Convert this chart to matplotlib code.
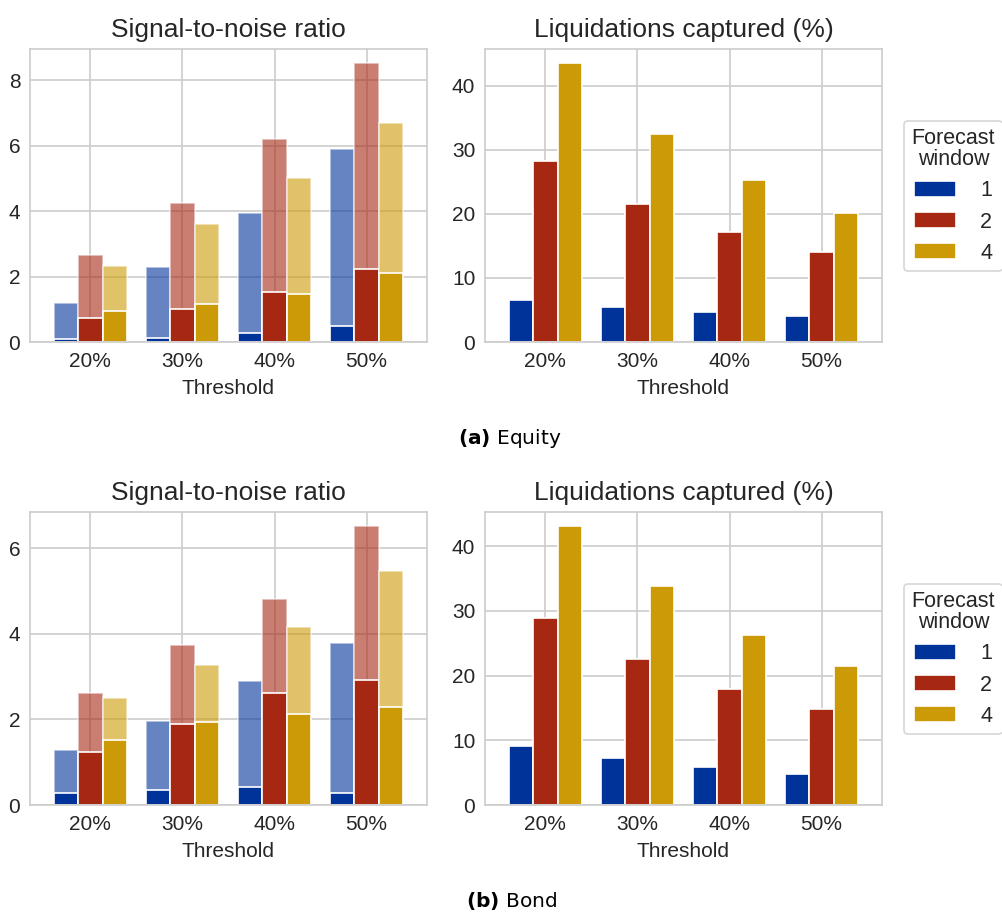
import matplotlib
matplotlib.use("Agg")
import matplotlib.pyplot as plt
import numpy as np

thresholds = ["20%", "30%", "40%", "50%"]
windows = ["1", "2", "4"]
colors = ["#003399", "#A62813", "#CC9A06"]

# Equity
eq_snr_total = {"1": [1.18, 2.29, 3.94, 5.89],
                "2": [2.65, 4.24, 6.21, 8.52],
                "4": [2.33, 3.60, 5.00, 6.70]}
eq_snr_base = {"1": [0.10, 0.11, 0.27, 0.48],
               "2": [0.72, 1.00, 1.53, 2.23],
               "4": [0.95, 1.16, 1.47, 2.12]}
eq_capt = {"1": [6.48, 5.44, 4.65, 4.13],
           "2": [28.34, 21.54, 17.15, 14.07],
           "4": [43.56, 32.42, 25.31, 20.18]}
# Bond
bd_snr_total = {"1": [1.29, 1.97, 2.90, 3.79],
                "2": [2.62, 3.73, 4.82, 6.52],
                "4": [2.51, 3.27, 4.15, 5.48]}
bd_snr_base = {"1": [0.28, 0.34, 0.42, 0.28],
               "2": [1.25, 1.90, 2.62, 2.93],
               "4": [1.53, 1.93, 2.13, 2.29]}
bd_capt = {"1": [9.07, 7.31, 5.85, 4.87],
           "2": [28.9, 22.6, 17.9, 14.8],
           "4": [43.1, 33.8, 26.3, 21.55]}

plt.rcParams['font.family'] = ['Liberation Sans', 'DejaVu Sans']
plt.rcParams['mathtext.fontset'] = 'dejavusans'

W, H = 1003, 913
fig = plt.figure(figsize=(W / 100, H / 100), dpi=100)

def px_axes(x0, y0, x1, y1):
    return fig.add_axes([x0 / W, 1 - y1 / H, (x1 - x0) / W, (y1 - y0) / H])

bw = 0.8 / 3
xs = np.arange(len(thresholds))
TXT = "#262626"

def style(ax, title, ylim, yticks):
    ax.set_facecolor("white")
    ax.set_axisbelow(True)
    ax.grid(True, color="#cccccc", linewidth=1.2)
    for s in ax.spines.values():
        s.set_color("#cccccc")
        s.set_linewidth(1.2)
    ax.set_xlim(-0.656, 3.656)
    ax.set_ylim(*ylim)
    ax.set_yticks(yticks)
    ax.set_xticks(xs)
    ax.set_xticklabels(thresholds)
    ax.tick_params(axis="both", length=0, labelsize=15, colors=TXT, pad=7)
    ax.set_title(title, fontsize=19, color=TXT, pad=9)
    ax.set_xlabel("Threshold", fontsize=15, color=TXT, labelpad=6)

def snr(ax, total, base):
    for i, w in enumerate(windows):
        pos = xs + (i - 1) * bw
        ax.bar(pos, total[w], width=bw, color=colors[i], alpha=0.6,
               edgecolor="white", linewidth=1.2)
        ax.bar(pos, base[w], width=bw, color=colors[i],
               edgecolor="white", linewidth=1.2)

def capt(ax, vals):
    for i, w in enumerate(windows):
        pos = xs + (i - 1) * bw
        ax.bar(pos, vals[w], width=bw, color=colors[i],
               edgecolor="white", linewidth=1.2, label=w)

ax1 = px_axes(30, 49, 427, 342)
snr(ax1, eq_snr_total, eq_snr_base)
style(ax1, "Signal-to-noise ratio", (0, 8.95), [0, 2, 4, 6, 8])

ax2 = px_axes(485, 49, 882, 342)
capt(ax2, eq_capt)
style(ax2, "Liquidations captured (%)", (0, 45.75), [0, 10, 20, 30, 40])

ax3 = px_axes(30, 512, 427, 805)
snr(ax3, bd_snr_total, bd_snr_base)
style(ax3, "Signal-to-noise ratio", (0, 6.85), [0, 2, 4, 6])

ax4 = px_axes(485, 512, 882, 805)
capt(ax4, bd_capt)
style(ax4, "Liquidations captured (%)", (0, 45.3), [0, 10, 20, 30, 40])

for ax, yc in [(ax2, 196), (ax4, 659)]:
    leg = ax.legend(title="Forecast\nwindow", loc="center left",
                    bbox_to_anchor=(904 / W, 1 - yc / H),
                    bbox_transform=fig.transFigure,
                    fontsize=15.5, title_fontsize=15.5, frameon=True,
                    handlelength=1.95, handleheight=0.75, labelspacing=0.47,
                    borderpad=0.35, handletextpad=1.1, borderaxespad=0)
    leg.get_frame().set_edgecolor("#cccccc")
    leg.get_frame().set_linewidth(1.2)
    leg.get_title().set_multialignment("center")
    leg.get_title().set_color(TXT)
    leg.get_title().set_linespacing(1.0)
    for t in leg.get_texts():
        t.set_color(TXT)

fig.text(510 / W, 1 - 439 / H, r"$\mathbf{(a)}$ Equity", fontsize=14.5,
         ha="center", va="center", family="DejaVu Sans", color="black")
fig.text(511 / W, 1 - 901 / H, r"$\mathbf{(b)}$ Bond", fontsize=14.5,
         ha="center", va="center", family="DejaVu Sans", color="black")

fig.savefig("out.png", dpi=100)
